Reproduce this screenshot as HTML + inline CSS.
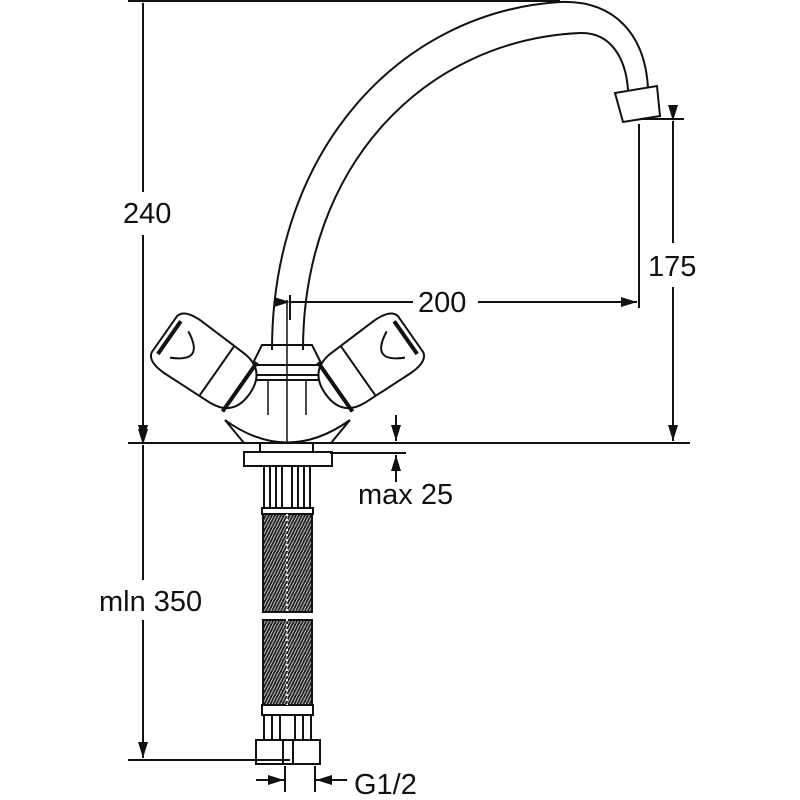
<!DOCTYPE html>
<html><head><meta charset="utf-8"><style>
html,body{margin:0;padding:0;background:#fff;width:800px;height:800px;overflow:hidden}
svg text{font-family:"Liberation Sans",sans-serif;font-size:29px;fill:#111}
</style></head><body>
<svg width="800" height="800" viewBox="0 0 800 800" xmlns="http://www.w3.org/2000/svg">
<defs>
<marker id="a" viewBox="0 0 16 10" refX="16" refY="5" markerWidth="16" markerHeight="10" orient="auto" markerUnits="userSpaceOnUse"><path d="M0,0 L16,5 L0,10 Z" fill="#111"/></marker>
<pattern id="br" width="6" height="6" patternUnits="userSpaceOnUse"><rect width="6" height="6" fill="#222"/><path d="M0,6 L3,0 M3,6 L6,0" stroke="#bbb" stroke-width="1"/></pattern>
</defs>
<g stroke="#111" stroke-width="2" fill="none">
<line x1="128" y1="1" x2="560" y2="1"/>
<line x1="128" y1="443" x2="690" y2="443"/>
<line x1="143" y1="3" x2="143" y2="192" marker-start="url(#a)"/>
<line x1="143" y1="235" x2="143" y2="441" marker-end="url(#a)"/>
<line x1="143" y1="445" x2="143" y2="580" marker-start="url(#a)"/>
<line x1="143" y1="620" x2="143" y2="758" marker-end="url(#a)"/>
<line x1="128" y1="760" x2="290" y2="760"/>
<line x1="640" y1="119" x2="684" y2="119"/>
<line x1="673" y1="121" x2="673" y2="243" marker-start="url(#a)"/>
<line x1="673" y1="287" x2="673" y2="441" marker-end="url(#a)"/>
<line x1="639" y1="124" x2="639" y2="308"/>
<line x1="290" y1="302" x2="413" y2="302" marker-start="url(#a)"/>
<line x1="478" y1="302" x2="637" y2="302" marker-end="url(#a)"/>
<line x1="290" y1="295" x2="290" y2="320"/>
<line x1="396" y1="415" x2="396" y2="441" marker-end="url(#a)"/>
<line x1="396" y1="482" x2="396" y2="455" marker-end="url(#a)"/>
<line x1="330" y1="453" x2="406" y2="453"/>
<line x1="256" y1="780" x2="284" y2="780" marker-end="url(#a)"/>
<line x1="347" y1="780" x2="316" y2="780" marker-end="url(#a)"/>
<line x1="285" y1="766" x2="285" y2="792"/>
<line x1="315" y1="766" x2="315" y2="792"/>
<path d="M272,350 C272,150 400,12 560,2 C615,0 645,35 648,88"/>
<path d="M303,350 C303,165 425,40 580,33 C612,32 626,60 628,90"/>
<path d="M615,93 L657,86 L660,116 L623,122 Z"/>
<path d="M262,345 L312,345 L322,365 L252,365 Z"/>
<rect x="252" y="365" width="70" height="10"/>
<line x1="252" y1="380" x2="322" y2="380"/>
<line x1="287" y1="300" x2="287" y2="443" stroke-width="1.5"/>
<line x1="268" y1="380" x2="268" y2="415" stroke-width="1.5"/>
<line x1="306" y1="380" x2="306" y2="415" stroke-width="1.5"/>
<path d="M225,420 Q287,465 350,420"/>
<path d="M225,420 L244,443 M350,420 L331,443"/>
<g transform="translate(207,364) rotate(35)">
<path d="M-52,-22 Q-50,-32 -30,-32 L25,-30 Q52,-28 52,0 Q52,28 25,30 L-30,32 Q-50,32 -52,22 Z" fill="#fff"/>
<line x1="12" y1="-30" x2="12" y2="30"/>
<line x1="40" y1="-30" x2="40" y2="30" stroke-width="4"/>
<path d="M-46,-20 L-46,20" stroke-width="4"/>
<path d="M-34,-16 Q-2,0 -34,16"/>
</g>
<g transform="translate(368,364) rotate(-35)">
<path d="M52,-22 Q50,-32 30,-32 L-25,-30 Q-52,-28 -52,0 Q-52,28 -25,30 L30,32 Q50,32 52,22 Z" fill="#fff"/>
<line x1="-12" y1="-30" x2="-12" y2="30"/>
<line x1="-40" y1="-30" x2="-40" y2="30" stroke-width="4"/>
<path d="M46,-20 L46,20" stroke-width="4"/>
<path d="M34,-16 Q2,0 34,16"/>
</g>
<rect x="260" y="443" width="53" height="9"/>
<rect x="244" y="452" width="88" height="14"/>
<rect x="264" y="466" width="18" height="47"/>
<rect x="292" y="466" width="18" height="47"/>
<line x1="270" y1="466" x2="270" y2="513"/><line x1="276" y1="466" x2="276" y2="513"/>
<line x1="298" y1="466" x2="298" y2="513"/><line x1="304" y1="466" x2="304" y2="513"/>
<rect x="262" y="508" width="51" height="6" fill="#fff"/>
<rect x="263" y="514" width="49" height="98" fill="url(#br)"/>
<rect x="263" y="620" width="49" height="85" fill="url(#br)"/>
<rect x="262" y="705" width="51" height="10" fill="#fff"/>
<rect x="264" y="715" width="47" height="25"/>
<line x1="272" y1="715" x2="272" y2="740"/><line x1="280" y1="715" x2="280" y2="740"/>
<line x1="295" y1="715" x2="295" y2="740"/><line x1="303" y1="715" x2="303" y2="740"/>
<rect x="256" y="740" width="64" height="24"/>
<line x1="283" y1="740" x2="283" y2="764"/><line x1="293" y1="740" x2="293" y2="764"/>
</g>
<line x1="287" y1="514" x2="287" y2="705" stroke="#eee" stroke-width="2" stroke-dasharray="2 3"/>
<text x="123" y="223">240</text>
<text x="648" y="276">175</text>
<text x="418" y="312">200</text>
<text x="358" y="504">max 25</text>
<text x="99" y="611">mln 350</text>
<text x="354" y="794">G1/2</text>
</svg>
</body></html>
